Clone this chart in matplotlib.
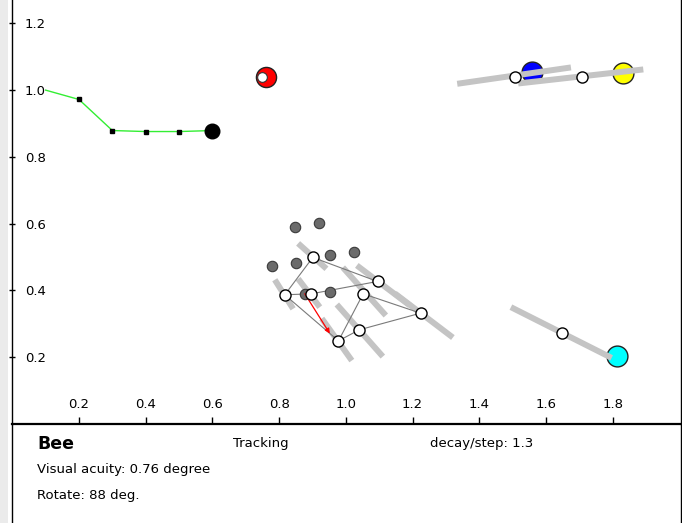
import matplotlib
matplotlib.use("Agg")
import matplotlib.pyplot as plt
from matplotlib.patches import Rectangle

plt.rcParams['font.family'] = ['DejaVu Sans']

# ---------------- data ----------------
x_ticks = [0.2, 0.4, 0.6, 0.8, 1.0, 1.2, 1.4, 1.6, 1.8]
x_tick_labels = ["0.2", "0.4", "0.6", "0.8", "1.0", "1.2", "1.4", "1.6", "1.8"]
y_ticks = [0.2, 0.4, 0.6, 0.8, 1.0, 1.2]
y_tick_labels = ["0.2", "0.4", "0.6", "0.8", "1.0", "1.2"]

# bee trail (green path), last point = bee head
trail_x = [0.10, 0.20, 0.30, 0.40, 0.50, 0.60]
trail_y = [1.000, 0.972, 0.879, 0.876, 0.876, 0.879]

# red target and its white eye
red_xy = (0.760, 1.040)
red_eye_xy = (0.749, 1.039)

# coloured targets
target_x = [1.559, 1.830, 1.813]
target_y = [1.053, 1.051, 0.205]
target_colors = ["#0000ff", "#ffff00", "#00ffff"]

# white predictions near coloured targets and their gray bars
pred_x = [1.507, 1.707, 1.649]
pred_y = [1.040, 1.040, 0.272]
pred_bar_x0 = [1.334, 1.517, 1.495]
pred_bar_y0 = [1.019, 1.020, 0.350]
pred_bar_x1 = [1.675, 1.892, 1.797]
pred_bar_y1 = [1.068, 1.062, 0.198]

# dark gray cluster points
dark_x = [0.848, 0.919, 0.953, 1.025, 0.778, 0.850, 0.954, 0.877]
dark_y = [0.591, 0.601, 0.507, 0.516, 0.472, 0.483, 0.395, 0.388]

# white network nodes A..H
node_x = [0.901, 0.817, 0.897, 1.095, 1.052, 1.224, 1.040, 0.978]
node_y = [0.499, 0.387, 0.390, 0.427, 0.390, 0.332, 0.282, 0.249]
# gray heading bars through nodes
bar_x0 = [0.857, 0.787, 0.857, 1.033, 0.991, 1.147, 0.973, 0.928]
bar_y0 = [0.541, 0.432, 0.435, 0.475, 0.469, 0.391, 0.358, 0.316]
bar_x1 = [0.942, 0.842, 0.922, 1.192, 1.120, 1.321, 1.111, 1.018]
bar_y1 = [0.465, 0.345, 0.350, 0.355, 0.325, 0.259, 0.202, 0.190]
# edges between nodes (index pairs)
edges = [(0, 1), (0, 3), (1, 2), (2, 3), (1, 7), (4, 5), (4, 7), (6, 5), (6, 7)]

# red arrow
arrow_start = (0.877, 0.390)
arrow_end = (0.952, 0.271)

info_title = "Bee"
info_mode = "Tracking"
info_decay = "decay/step: 1.3"
info_acuity = "Visual acuity: 0.76 degree"
info_rotate = "Rotate: 88 deg."

# ---------------- figure ----------------
W, H = 682, 523
fig = plt.figure(figsize=(W / 100, H / 100), dpi=100)
fig.patch.set_facecolor("white")

# light gray strip at far left
fig.patches.append(Rectangle((0, 0), 8 / W, 1, transform=fig.transFigure,
                             facecolor="#ebebeb", edgecolor="none", zorder=0))

ax_left = 12.3 / W
ax_bottom = (H - 424) / H
ax = fig.add_axes([ax_left, ax_bottom, (681 - 12.3) / W, 424 / H])
ax.set_xlim(0, 2.005)
ax.set_ylim(0, 1.27)
ax.set_facecolor("white")

ax.spines["top"].set_visible(False)
ax.spines["left"].set_linewidth(1.0)
ax.spines["right"].set_linewidth(1.0)
ax.spines["bottom"].set_linewidth(1.6)

ax.set_xticks(x_ticks)
ax.set_xticklabels(x_tick_labels)
ax.set_yticks(y_ticks)
ax.set_yticklabels(y_tick_labels)
ax.tick_params(axis="x", direction="in", length=5, width=1, pad=-19,
               labelsize=9.5, colors="black")
ax.tick_params(axis="y", direction="inout", length=4.5, width=1, pad=-11.3,
               labelsize=9.5, colors="black")
for lab in ax.get_yticklabels():
    lab.set_horizontalalignment("left")

# green trail
ax.plot(trail_x, trail_y, color="#33ee33", lw=1.0, zorder=3)
ax.plot(trail_x[1:-1], trail_y[1:-1], linestyle="none", marker="s",
        markersize=3.5, color="black", zorder=4)
ax.plot([trail_x[-1]], [trail_y[-1]], marker="o", markersize=10.5,
        color="black", linestyle="none", zorder=5)

# red target
ax.plot([red_xy[0]], [red_xy[1]], marker="o", markersize=14.5,
        markerfacecolor="#ff0000", markeredgecolor="#222222",
        markeredgewidth=1.0, linestyle="none", zorder=4)
ax.plot([red_eye_xy[0]], [red_eye_xy[1]], marker="o", markersize=7,
        markerfacecolor="white", markeredgecolor="#333333",
        markeredgewidth=0.8, linestyle="none", zorder=5)

# coloured targets (below gray bars)
for tx, ty, c in zip(target_x, target_y, target_colors):
    ax.plot([tx], [ty], marker="o", markersize=15, markerfacecolor=c,
            markeredgecolor="#222222", markeredgewidth=1.0,
            linestyle="none", zorder=1.5)

bar_color = "#c4c4c4"
for x0, y0, x1, y1 in zip(pred_bar_x0, pred_bar_y0, pred_bar_x1, pred_bar_y1):
    ax.plot([x0, x1], [y0, y1], color=bar_color, lw=4.3,
            solid_capstyle="butt", zorder=2)
ax.plot(pred_x, pred_y, marker="o", markersize=8, markerfacecolor="white",
        markeredgecolor="black", markeredgewidth=1.0, linestyle="none",
        zorder=5)

# cluster gray bars
for x0, y0, x1, y1 in zip(bar_x0, bar_y0, bar_x1, bar_y1):
    ax.plot([x0, x1], [y0, y1], color=bar_color, lw=4.3,
            solid_capstyle="butt", zorder=2)

# thin edges
for i, j in edges:
    ax.plot([node_x[i], node_x[j]], [node_y[i], node_y[j]], color="#7a7a7a",
            lw=0.8, zorder=3)

# dark gray points
ax.plot(dark_x, dark_y, marker="o", markersize=7.5, markerfacecolor="#6b6b6b",
        markeredgecolor="#3a3a3a", markeredgewidth=0.8, linestyle="none",
        zorder=4)

# red arrow
ax.annotate("", xy=arrow_end, xytext=arrow_start,
            arrowprops=dict(arrowstyle="-|>", color="#ff0000", lw=0.9,
                            mutation_scale=7, shrinkA=0, shrinkB=0),
            zorder=4.5)

# white nodes
ax.plot(node_x, node_y, marker="o", markersize=8, markerfacecolor="white",
        markeredgecolor="black", markeredgewidth=1.0, linestyle="none",
        zorder=5)

# ---------------- info panel ----------------
pan = fig.add_axes([ax_left, 0, (681 - 12.3) / W, (H - 424) / H])
pan.set_xlim(0, 1)
pan.set_ylim(0, 1)
pan.set_xticks([])
pan.set_yticks([])
pan.spines["top"].set_visible(False)
pan.spines["bottom"].set_visible(False)
pan.spines["left"].set_linewidth(1.0)
pan.spines["right"].set_linewidth(1.0)
pan.patch.set_alpha(0)

def fx(px):
    return px / W

def fy(py):
    return 1 - py / H

fig.text(fx(37), fy(444), info_title, fontsize=12.5, fontweight="bold",
         va="center", ha="left")
fig.text(fx(233), fy(444), info_mode, fontsize=9.5, va="center", ha="left")
fig.text(fx(430), fy(444), info_decay, fontsize=9.5, va="center", ha="left")
fig.text(fx(37), fy(470), info_acuity, fontsize=9.5, va="center", ha="left")
fig.text(fx(37), fy(495), info_rotate, fontsize=9.5, va="center", ha="left")

fig.savefig("out.png", dpi=100)
